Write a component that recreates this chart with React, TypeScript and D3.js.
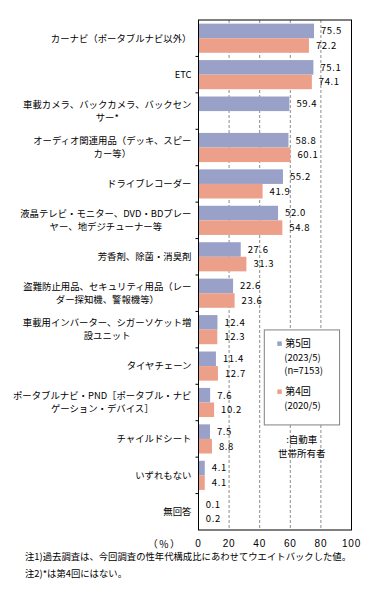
import { useEffect, useRef } from "react"
import * as d3 from "d3"

// category labels, already wrapped the way the original shows them
const categories: string[][] = [
  ["カーナビ（ポータブルナビ以外）"],
  ["ETC"],
  ["車載カメラ、バックカメラ、バックセン", "サー*"],
  ["オーディオ関連用品（デッキ、スピー", "カー等）"],
  ["ドライブレコーダー"],
  ["液晶テレビ・モニター、DVD・BDプレー", "ヤー、地デジチューナー等"],
  ["芳香剤、除菌・消臭剤"],
  ["盗難防止用品、セキュリティ用品（レー", "ダー探知機、警報機等）"],
  ["車載用インバーター、シガーソケット増", "設ユニット"],
  ["タイヤチェーン"],
  ["ポータブルナビ・PND［ポータブル・ナビ", "ゲーション・デバイス］"],
  ["チャイルドシート"],
  ["いずれもない"],
  ["無回答"],
]
const round5 = [75.5, 75.1, 59.4, 58.8, 55.2, 52.0, 27.6, 22.6, 12.4, 11.4, 7.6, 7.5, 4.1, 0.1]
const round4 = [72.2, 74.1, null, 60.1, 41.9, 54.8, 31.3, 23.6, 12.3, 12.7, 10.2, 8.8, 4.1, 0.2]
const seriesNames = ["第5回", "第4回"]
const seriesSub = [["(2023/5)", "(n=7153)"], ["(2020/5)"]]
const xTicks = [0, 20, 40, 60, 80, 100]
const owner = [":自動車", "世帯所有者"]
const notes = [
  "注1)過去調査は、今回調査の性年代構成比にあわせてウエイトバックした値。",
  "注2)*は第4回にはない。",
]

const FONT = "'Noto Sans CJK JP', sans-serif"
const colors = ["#99a1c8", "#eca08a"]

export default function App() {
  const ref = useRef<HTMLDivElement>(null)

  useEffect(() => {
    d3.select(ref.current).selectAll("*").remove()
    buildGraph()
  }, [])

  function buildGraph({
    width = 390,
    height = 602,
    left = 198.5,
    right = 351.5,
    top = 20,
    bottom = 530,
  } = {}) {
    const keys = categories.map((_, i) => String(i))

    const x = d3.scaleLinear().domain([0, 100]).range([left, right])
    const y = d3.scaleBand().domain(keys).range([top, bottom])
    const sub = d3.scaleBand()
      .domain(seriesNames)
      .range([y.bandwidth() * 0.1, y.bandwidth() * 0.9])

    const svg = d3.select(ref.current).append("svg")
      .attr("width", width)
      .attr("height", height)
      .attr("viewBox", [0, 0, width, height])
      .style("position", "absolute")
      .style("left", 0)
      .style("top", 0)
      .style("background", "#fff")
      .attr("font-family", FONT)

    // dashed grid
    svg.append("g")
      .selectAll("line")
      .data(xTicks.filter(t => t > 0 && t < 100))
      .join("line")
        .attr("x1", d => x(d)).attr("x2", d => x(d))
        .attr("y1", top).attr("y2", bottom)
        .attr("stroke", "#8c8c8c")
        .attr("stroke-dasharray", "3,2")

    // bars
    const series = [round5, round4]
    series.forEach((vals, s) => {
      const name = seriesNames[s]
      const rows = vals.map((v, i) => ({ k: keys[i], v })).filter(d => d.v !== null) as { k: string, v: number }[]
      svg.append("g")
        .selectAll("rect")
        .data(rows)
        .join("rect")
          .attr("fill", colors[s])
          .attr("x", x(0))
          .attr("y", d => (y(d.k) as number) + (sub(name) as number))
          .attr("width", d => x(d.v) - x(0))
          .attr("height", sub.bandwidth())

      svg.append("g")
        .attr("font-size", 9.5)
        .attr("fill", "#000")
        .selectAll("text")
        .data(rows)
        .join("text")
          .attr("x", d => x(d.v) + 7)
          .attr("y", d => (y(d.k) as number) + (sub(name) as number) + sub.bandwidth() / 2)
          .attr("dy", "0.35em")
          .attr("letter-spacing", 0.6)
          .text(d => d.v.toFixed(1))
    })

    // plot frame
    svg.append("rect")
      .attr("x", left).attr("y", top)
      .attr("width", right - left).attr("height", bottom - top)
      .attr("fill", "none")
      .attr("stroke", "#000")

    // category tick marks
    svg.append("g")
      .selectAll("line")
      .data(keys.slice(1))
      .join("line")
        .attr("x1", left - 3).attr("x2", left)
        .attr("y1", d => y(d) as number).attr("y2", d => y(d) as number)
        .attr("stroke", "#000")

    // category labels
    const labelG = svg.append("g").attr("font-size", 9.4).attr("fill", "#000")
    categories.forEach((lines, i) => {
      const cy = (y(keys[i]) as number) + y.bandwidth() / 2
      const lh = 13
      if (lines.length === 1) {
        labelG.append("text")
          .attr("x", left - 7)
          .attr("y", cy)
          .attr("dy", "0.35em")
          .attr("text-anchor", "end")
          .text(lines[0])
      } else {
        const t1 = labelG.append("text")
          .attr("x", left - 7)
          .attr("y", cy - lh / 2)
          .attr("dy", "0.35em")
          .attr("text-anchor", "end")
          .text(lines[0])
        const w = (t1.node() as SVGTextElement).getComputedTextLength()
        labelG.append("text")
          .attr("x", left - 7 - w / 2)
          .attr("y", cy + lh / 2)
          .attr("dy", "0.35em")
          .attr("text-anchor", "middle")
          .text(lines[1])
      }
    })

    // x axis labels
    svg.append("g")
      .attr("font-family", "'Liberation Sans', sans-serif")
      .attr("font-size", 10)
      .attr("text-anchor", "middle")
      .selectAll("text")
      .data(xTicks)
      .join("text")
        .attr("x", d => x(d))
        .attr("y", bottom + 13)
        .attr("dy", "0.35em")
        .attr("letter-spacing", 0.8)
        .text(d => d)

    svg.append("text")
      .attr("x", left - 17)
      .attr("y", bottom + 14)
      .attr("dy", "0.35em")
      .attr("text-anchor", "end")
      .attr("font-size", 10)
      .attr("letter-spacing", 1.5)
      .text("（%）")

    // legend
    const lx = x(43)
    const lw = x(92.2) - lx
    const ly = (y(keys[8]) as number) + 18.5
    const legend = svg.append("g").attr("transform", `translate(${lx},${ly})`)
    legend.append("rect")
      .attr("width", lw).attr("height", 95)
      .attr("fill", "#fff")
      .attr("stroke", "#808080")
    const itemY = [14, 62]
    seriesNames.forEach((name, s) => {
      legend.append("rect")
        .attr("x", 13).attr("y", itemY[s] - 2.5)
        .attr("width", 4.5).attr("height", 4.5)
        .attr("fill", colors[s])
      legend.append("text")
        .attr("x", 21).attr("y", itemY[s])
        .attr("dy", "0.35em")
        .attr("font-size", 10)
        .text(name)
      legend.selectAll(null)
        .data(seriesSub[s])
        .join("text")
          .attr("x", 20)
          .attr("y", (_, j) => itemY[s] + 13.5 * (j + 1))
          .attr("dy", "0.35em")
          .attr("font-size", 9.5)
          .text(d => d)
    })

    svg.append("g")
      .attr("font-size", 9.5)
      .attr("text-anchor", "middle")
      .selectAll("text")
      .data(owner)
      .join("text")
        .attr("x", x(67.5))
        .attr("y", (_, j) => ly + 110 + j * 13.5)
        .attr("dy", "0.35em")
        .text(d => d)

    // notes
    svg.append("g")
      .attr("font-size", 9.35)
      .selectAll("text")
      .data(notes)
      .join("text")
        .attr("x", 25)
        .attr("y", (_, j) => 557 + j * 16.5)
        .attr("dy", "0.35em")
        .text(d => d)
  }

  return <div ref={ref}></div>
}
